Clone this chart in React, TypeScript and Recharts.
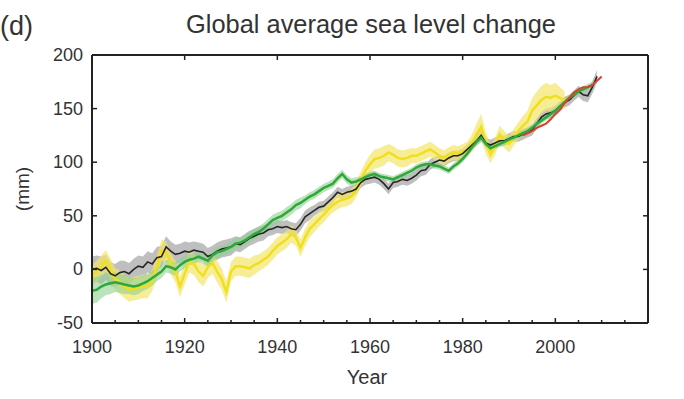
import React from 'react';
import { ComposedChart, Line, Area, XAxis, YAxis } from 'recharts';

// ---- data ----
const years: number[] = Array.from({ length: 111 }, (_, i) => 1900 + i); // 1900..2010

// Tide-gauge reconstruction (black line, grey band), from 1900
const blackStart = 1900;
const blackValues = [
  0, 1, -1, 2, -4, -6, -3, -2, -4, 0,
  3, 2, 7, 5, 11, 12, 21, 17, 14, 15,
  17, 16, 18, 17, 16, 12, 14, 17, 19, 20,
  21, 24, 23, 26, 29, 31, 33, 34, 37, 38,
  40, 39, 40, 38, 37, 42, 49, 52, 55, 58,
  59, 63, 67, 72, 70, 72, 73, 75, 81, 84,
  85, 86, 84, 80, 75, 81, 82, 84, 83, 85,
  88, 92, 93, 98, 100, 102, 101, 104, 106, 106,
  108, 112, 116, 120, 125, 118, 116, 118, 120, 120,
  122, 124, 124, 126, 128, 130, 136, 142, 145, 146,
  148, 152, 156, 158, 162, 166, 163, 162, 170, 180,
];
const blackErr = [
  12, 12, 13, 12, 11, 11, 11, 10, 10, 10,
  10, 10, 10, 10, 10, 10, 10, 9, 9, 9,
  9, 9, 8, 8, 8, 8, 8, 8, 8, 8,
  8, 7, 7, 7, 7, 7, 7, 7, 6, 6,
  6, 6, 6, 6, 6, 6, 6, 6, 5, 5,
  5, 5, 5, 5, 5, 5, 5, 5, 5, 5,
  5, 5, 5, 5, 5, 5, 5, 5, 5, 5,
  5, 5, 5, 5, 5, 5, 5, 5, 5, 5,
  5, 5, 5, 5, 6, 5, 5, 5, 5, 5,
  5, 5, 5, 5, 5, 5, 5, 5, 5, 5,
  5, 5, 5, 5, 5, 5, 6, 6, 6, 6,
];

// Second reconstruction (yellow line, yellow band), from 1900
const yellowStart = 1900;
const yellowValues = [
  -6, -2, 3, 8, 0, -9, -12, -16, -19, -18,
  -17, -16, -16, -10, 2, 18, 16, 5, -2, -16,
  -4, 7, 5, -2, -6, 2, 6, -2, -9, -21,
  -2, 3, 3, 2, 1, 4, 6, 9, 12, 17,
  22, 25, 28, 33, 30, 20, 30, 38, 42, 47,
  51, 56, 60, 63, 65, 66, 68, 74, 84, 92,
  98, 103, 104, 106, 109, 107, 104, 103, 104, 106,
  106, 108, 110, 112, 109, 106, 104, 107, 109, 108,
  110, 112, 118, 126, 133, 118, 107, 115, 126, 121,
  117, 123, 129, 134, 138, 148, 153, 158, 161, 160,
  162, 160, 158,
];
const yellowErr = [
  10, 10, 10, 10, 10, 10, 11, 11, 11, 11,
  11, 11, 11, 10, 10, 10, 10, 10, 10, 10,
  10, 10, 10, 10, 10, 10, 10, 10, 10, 10,
  9, 9, 9, 9, 9, 9, 8, 8, 8, 8,
  8, 8, 8, 8, 8, 8, 8, 8, 7, 7,
  7, 7, 7, 7, 7, 7, 7, 7, 7, 8,
  9, 9, 9, 9, 8, 8, 8, 8, 8, 7,
  7, 7, 7, 7, 7, 7, 7, 7, 7, 7,
  7, 7, 8, 10, 12, 10, 8, 8, 8, 8,
  8, 8, 8, 9, 10, 12, 13, 13, 13, 12,
  12, 10, 8,
];

// Third reconstruction (green line, light green band), from 1900
const greenStart = 1900;
const greenValues = [
  -20, -19, -16, -14, -13, -12, -13, -14, -15, -16,
  -15, -13, -11, -8, -5, -2, 3, 2, 0, 4,
  7, 9, 10, 12, 10, 8, 13, 16, 17, 19,
  21, 24, 25, 27, 30, 33, 35, 38, 42, 46,
  48, 50, 53, 56, 60, 62, 65, 68, 70, 73,
  76, 78, 80, 85, 89, 84, 81, 82, 84, 86,
  88, 89, 87, 86, 85, 84, 86, 88, 90, 92,
  95, 97, 98, 98, 97, 96, 94, 92, 96, 99,
  103, 108, 114, 119, 123, 117, 113, 115, 117, 119,
  121, 123, 125, 127, 129, 132, 136, 139, 142, 145,
  148, 152, 156, 160, 163, 166, 168, 170, 172,
];
const greenErr = [
  12, 12, 11, 10, 10, 9, 9, 9, 8, 8,
  8, 7, 7, 7, 6, 6, 6, 6, 6, 6,
  6, 5, 5, 5, 5, 5, 5, 5, 5, 5,
  5, 5, 5, 5, 5, 5, 5, 5, 5, 5,
  5, 5, 5, 5, 5, 5, 4, 4, 4, 4,
  4, 4, 4, 4, 4, 4, 4, 4, 3, 3,
  3, 3, 3, 3, 3, 3, 3, 3, 3, 3,
  3, 3, 3, 3, 3, 3, 3, 3, 3, 3,
  3, 3, 3, 3, 3, 3, 3, 3, 3, 3,
  3, 3, 3, 3, 3, 3, 3, 3, 3, 3,
  3, 3, 3, 3, 3, 3, 3, 3, 3,
];

// Satellite altimetry (red line), from 1993
const redStart = 1993;
const redValues = [125, 127, 129, 132, 134, 136, 140, 145, 149, 155, 160, 165, 168, 170, 170, 172, 176, 180];

const xTicksBottom = [1900, 1905, 1910, 1915, 1920, 1925, 1930, 1935, 1940, 1945, 1950, 1955, 1960, 1965, 1970, 1975, 1980, 1985, 1990, 1995, 2000, 2005, 2010, 2015, 2020];
const xTicksTop = [1900, 1920, 1940, 1960, 1980, 2000, 2020];
const xLabels = [1900, 1920, 1940, 1960, 1980, 2000];
const yTicks = [-50, 0, 50, 100, 150, 200];

const pick = (arr: number[], start: number, y: number) => {
  const i = y - start;
  return i >= 0 && i < arr.length ? arr[i] : null;
};

const table = years.map((yr) => {
  const b = pick(blackValues, blackStart, yr);
  const be = pick(blackErr, blackStart, yr);
  const yv = pick(yellowValues, yellowStart, yr);
  const ye = pick(yellowErr, yellowStart, yr);
  const g = pick(greenValues, greenStart, yr);
  const ge = pick(greenErr, greenStart, yr);
  const r = pick(redValues, redStart, yr);
  return {
    year: yr,
    black: b,
    blackBand: b !== null && be !== null ? [b - be, b + be] : null,
    yellow: yv,
    yellowBand: yv !== null && ye !== null ? [yv - ye, yv + ye] : null,
    green: g,
    greenBand: g !== null && ge !== null ? [g - ge, g + ge] : null,
    red: r,
  };
});

const FONT = '"Liberation Sans", Arial, Helvetica, sans-serif';
const TXT = '#333';
const AX = '#222';

const BottomTick = (props: any) => {
  const { x, y, payload } = props;
  const v = payload.value;
  const major = v % 20 === 0;
  return (
    <g>
      <line x1={x} y1={y} x2={x} y2={y - (major ? 5 : 3)} stroke={AX} strokeWidth={1.5} />
      {xLabels.includes(v) && (
        <text x={x} y={y + 30} textAnchor="middle" fontSize={18} fontFamily={FONT} fill={TXT}>
          {v}
        </text>
      )}
    </g>
  );
};

const TopTick = (props: any) => {
  const { x, y } = props;
  return <line x1={x} y1={y} x2={x} y2={y + 5} stroke={AX} strokeWidth={1.5} />;
};

const LeftTick = (props: any) => {
  const { x, y, payload } = props;
  return (
    <g>
      <line x1={x} y1={y} x2={x + 5} y2={y} stroke={AX} strokeWidth={1.5} />
      <text x={x - 9} y={y + 6} textAnchor="end" fontSize={18} fontFamily={FONT} fill={TXT}>
        {payload.value}
      </text>
    </g>
  );
};

const RightTick = (props: any) => {
  const { x, y } = props;
  return <line x1={x - 5} y1={y} x2={x} y2={y} stroke={AX} strokeWidth={1.5} />;
};

export default function App() {
  return (
    <div style={{ position: 'absolute', left: 0, top: 0, width: 684, height: 399, background: '#fff' }}>
      <ComposedChart
        width={684}
        height={399}
        data={table}
        margin={{ top: 54, right: 35, bottom: 75, left: 91 }}
      >
        <XAxis
          dataKey="year"
          type="number"
          domain={[1900, 2020]}
          allowDataOverflow
          ticks={xTicksBottom}
          interval={0}
          height={1}
          tickSize={0}
          tickMargin={0}
          tickLine={false}
          tick={<BottomTick />}
          axisLine={{ stroke: AX, strokeWidth: 2 }}
        />
        <XAxis
          xAxisId="top"
          orientation="top"
          dataKey="year"
          type="number"
          domain={[1900, 2020]}
          allowDataOverflow
          ticks={xTicksTop}
          interval={0}
          height={1}
          tickSize={0}
          tickMargin={0}
          tickLine={false}
          tick={<TopTick />}
          axisLine={{ stroke: AX, strokeWidth: 2 }}
        />
        <YAxis
          type="number"
          domain={[-50, 200]}
          allowDataOverflow
          ticks={yTicks}
          interval={0}
          width={1}
          tickSize={0}
          tickMargin={0}
          tickLine={false}
          tick={<LeftTick />}
          axisLine={{ stroke: AX, strokeWidth: 2 }}
        />
        <YAxis
          yAxisId="right"
          orientation="right"
          type="number"
          domain={[-50, 200]}
          allowDataOverflow
          ticks={yTicks}
          interval={0}
          width={1}
          tickSize={0}
          tickMargin={0}
          tickLine={false}
          tick={<RightTick />}
          axisLine={{ stroke: AX, strokeWidth: 2 }}
        />
        <Area dataKey="blackBand" stroke="none" fill="#a9a9ab" fillOpacity={0.75} isAnimationActive={false} dot={false} activeDot={false} />
        <Area dataKey="yellowBand" stroke="none" fill="#f3e66a" fillOpacity={0.7} isAnimationActive={false} dot={false} activeDot={false} />
        <Area dataKey="greenBand" stroke="none" fill="#8fd08f" fillOpacity={0.6} isAnimationActive={false} dot={false} activeDot={false} />
        <Line dataKey="yellow" stroke="#f0e01c" strokeWidth={2.5} dot={false} activeDot={false} isAnimationActive={false} />
        <Line dataKey="black" stroke="#262626" strokeWidth={1.6} dot={false} activeDot={false} isAnimationActive={false} />
        <Line dataKey="green" stroke="#2ea83a" strokeWidth={2.5} dot={false} activeDot={false} isAnimationActive={false} />
        <Line dataKey="red" stroke="#d9402a" strokeWidth={2} dot={false} activeDot={false} isAnimationActive={false} />
      </ComposedChart>
      <svg
        width={684}
        height={399}
        style={{ position: 'absolute', left: 0, top: 0, pointerEvents: 'none' }}
      >
        <text x={0} y={35} fontSize={27} fontFamily={FONT} fill={TXT}>(d)</text>
        <text x={371} y={33} textAnchor="middle" fontSize={25.4} fontFamily={FONT} fill={TXT}>
          Global average sea level change
        </text>
        <text x={367} y={384} textAnchor="middle" fontSize={20} fontFamily={FONT} fill={TXT}>Year</text>
        <text
          x={0}
          y={0}
          transform="translate(29,189) rotate(-90)"
          textAnchor="middle"
          fontSize={19}
          fontFamily={FONT}
          fill={TXT}
        >
          (mm)
        </text>
      </svg>
    </div>
  );
}
